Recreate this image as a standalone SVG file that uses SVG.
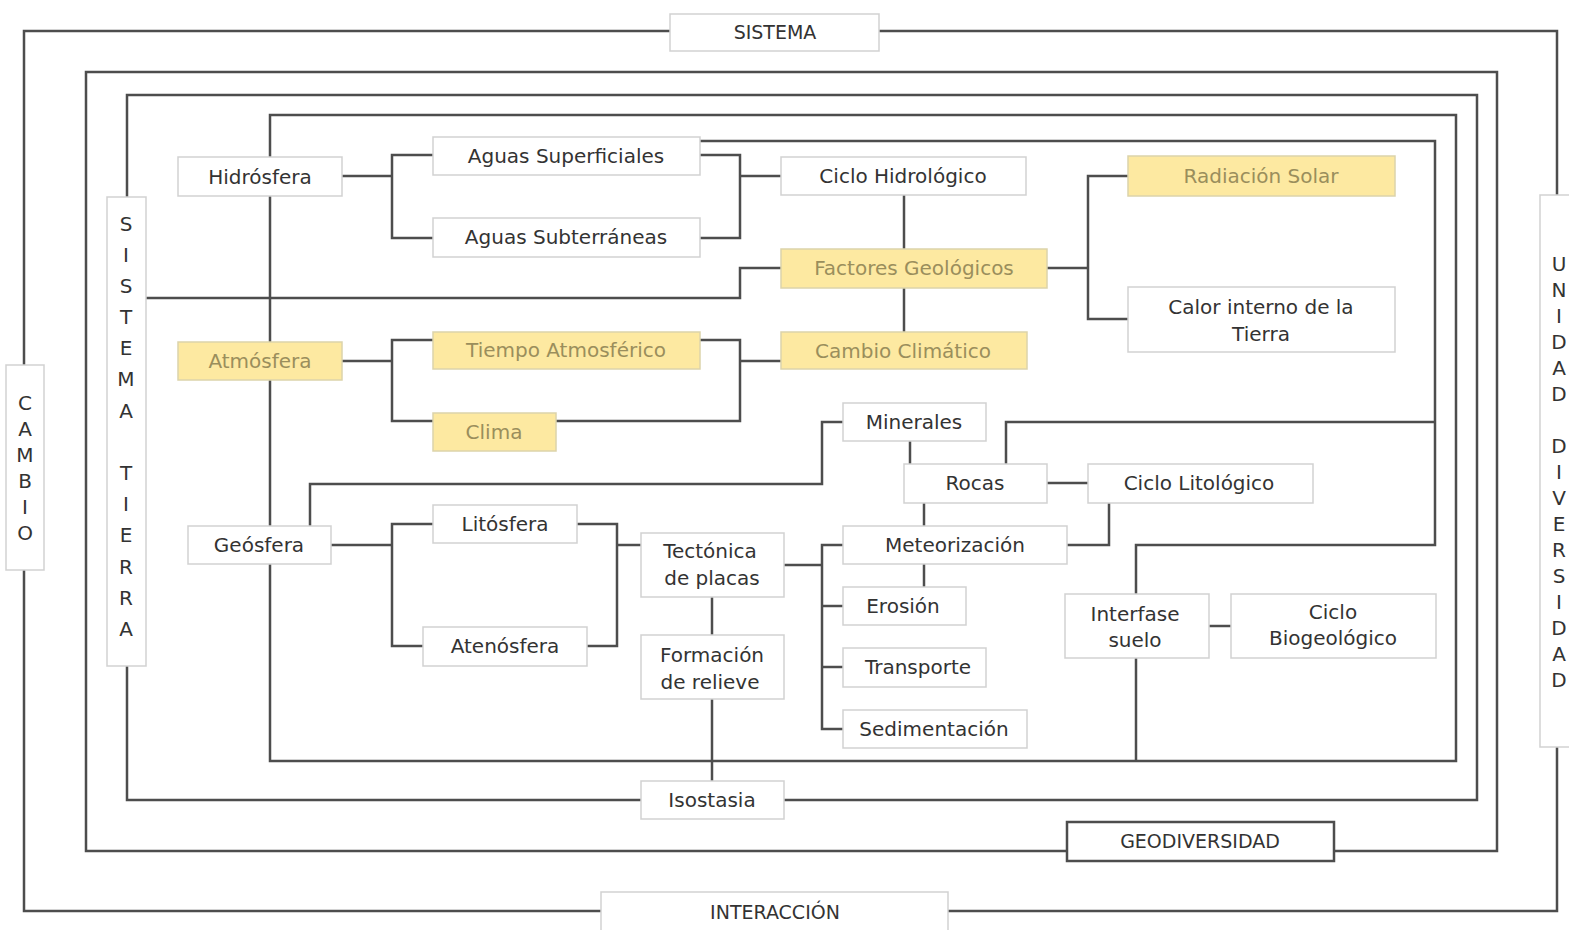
<svg xmlns="http://www.w3.org/2000/svg" width="1569" height="930" viewBox="0 0 1569 930">
  <style>
    .ln { fill: none; stroke: #4d4d4d; stroke-width: 2.5; stroke-linejoin: miter; }
    .box { fill: #ffffff; stroke: #d2d2d2; stroke-width: 1.5; }
    .hl { fill: #fde9a1; stroke: #dcd3ab; stroke-width: 1.5; }
    .dark { fill: #ffffff; stroke: #4d4d4d; stroke-width: 2.5; }
    text { font-family: "DejaVu Sans", "Liberation Sans", sans-serif; font-size: 20px; fill: #333333; text-anchor: middle; }
    .ht { fill: #9a8e5c; }
    .frame { font-size: 19px; }
  </style>

  <!-- connectors -->
  <g id="connectors">
    <!-- nested frames -->
    <path class="ln" d="M24,31 H1557 V911 H24 Z"/>
    <path class="ln" d="M86,72 H1497 V851 H86 Z"/>
    <path class="ln" d="M127,95 H1477 V800 H127 Z"/>
    <path class="ln" d="M270,115 H1456 V761 H270 Z"/>
    <path class="ln" d="M700,141 H1435 V545 H1136 V594"/>
    <path class="ln" d="M1435,422 H1006 V464"/>
    <path class="ln" d="M1136,658 V761"/>
    <!-- water branch -->
    <path class="ln" d="M342,176 H392"/>
    <path class="ln" d="M433,155 H392 V238 H433"/>
    <path class="ln" d="M700,155 H740 V238 H700"/>
    <path class="ln" d="M740,176 H781"/>
    <path class="ln" d="M904,195 V332"/>
    <path class="ln" d="M146,298 H740 V268 H781"/>
    <path class="ln" d="M1047,268 H1088"/>
    <path class="ln" d="M1128,176 H1088 V319 H1128"/>
    <!-- atmosphere branch -->
    <path class="ln" d="M342,361 H392"/>
    <path class="ln" d="M433,340 H392 V421 H433"/>
    <path class="ln" d="M700,340 H740 V421 H556"/>
    <path class="ln" d="M740,361 H781"/>
    <!-- geosphere branch -->
    <path class="ln" d="M310,526 V484 H822 V422 H843"/>
    <path class="ln" d="M910,441 V464"/>
    <path class="ln" d="M1047,483 H1088"/>
    <path class="ln" d="M924,503 V526"/>
    <path class="ln" d="M1109,503 V545 H1067"/>
    <path class="ln" d="M924,564 V587"/>
    <path class="ln" d="M331,545 H392"/>
    <path class="ln" d="M433,524 H392 V646 H423"/>
    <path class="ln" d="M577,524 H617 V646 H587"/>
    <path class="ln" d="M617,545 H641"/>
    <path class="ln" d="M784,565 H822"/>
    <path class="ln" d="M843,545 H822 V729 H843"/>
    <path class="ln" d="M822,606 H843"/>
    <path class="ln" d="M822,667 H843"/>
    <path class="ln" d="M712,597 V635"/>
    <path class="ln" d="M712,699 V781"/>
    <path class="ln" d="M1209,626 H1231"/>
  </g>

  <!-- frame labels -->
  <g id="sistema">
    <rect class="box" x="670" y="14" width="209" height="37"/>
    <text class="frame" x="775" y="39">SISTEMA</text>
  </g>
  <g id="interaccion">
    <rect class="box" x="601" y="892" width="347" height="45"/>
    <text class="frame" x="775" y="919">INTERACCIÓN</text>
  </g>
  <g id="geodiversidad">
    <rect class="dark" x="1067" y="822" width="267" height="39"/>
    <text class="frame" x="1200" y="848">GEODIVERSIDAD</text>
  </g>
  <g id="cambio">
    <rect class="box" x="6" y="365" width="38" height="205"/>
    <text x="25" y="410">C</text>
    <text x="25" y="436">A</text>
    <text x="25" y="462">M</text>
    <text x="25" y="488">B</text>
    <text x="25" y="514">I</text>
    <text x="25" y="540">O</text>
  </g>
  <g id="unidad-diversidad">
    <rect class="box" x="1540" y="195" width="40" height="552"/>
    <text x="1559" y="271">U</text>
    <text x="1559" y="297">N</text>
    <text x="1559" y="323">I</text>
    <text x="1559" y="349">D</text>
    <text x="1559" y="375">A</text>
    <text x="1559" y="401">D</text>
    <text x="1559" y="453">D</text>
    <text x="1559" y="479">I</text>
    <text x="1559" y="505">V</text>
    <text x="1559" y="531">E</text>
    <text x="1559" y="557">R</text>
    <text x="1559" y="583">S</text>
    <text x="1559" y="609">I</text>
    <text x="1559" y="635">D</text>
    <text x="1559" y="661">A</text>
    <text x="1559" y="687">D</text>
  </g>
  <g id="sistema-tierra">
    <rect class="box" x="107" y="197" width="39" height="469"/>
    <text x="126" y="231">S</text>
    <text x="126" y="262">I</text>
    <text x="126" y="293">S</text>
    <text x="126" y="324">T</text>
    <text x="126" y="355">E</text>
    <text x="126" y="386">M</text>
    <text x="126" y="418">A</text>
    <text x="126" y="480">T</text>
    <text x="126" y="511">I</text>
    <text x="126" y="542">E</text>
    <text x="126" y="574">R</text>
    <text x="126" y="605">R</text>
    <text x="126" y="636">A</text>
  </g>

  <!-- hydrosphere -->
  <g id="hidrosfera">
    <rect class="box" x="178" y="157" width="164" height="39"/>
    <text x="260" y="184">Hidrósfera</text>
  </g>
  <g id="aguas-superficiales">
    <rect class="box" x="433" y="137" width="267" height="38"/>
    <text x="566" y="163">Aguas Superficiales</text>
  </g>
  <g id="aguas-subterraneas">
    <rect class="box" x="433" y="218" width="267" height="39"/>
    <text x="566" y="244">Aguas Subterráneas</text>
  </g>
  <g id="ciclo-hidrologico">
    <rect class="box" x="781" y="157" width="245" height="38"/>
    <text x="903" y="183">Ciclo Hidrológico</text>
  </g>
  <g id="factores-geologicos">
    <rect class="hl" x="781" y="249" width="266" height="39"/>
    <text class="ht" x="914" y="275">Factores Geológicos</text>
  </g>
  <g id="radiacion-solar">
    <rect class="hl" x="1128" y="156" width="267" height="40"/>
    <text class="ht" x="1261" y="183">Radiación Solar</text>
  </g>
  <g id="calor-interno">
    <rect class="box" x="1128" y="287" width="267" height="65"/>
    <text x="1261" y="314">Calor interno de la</text>
    <text x="1261" y="341">Tierra</text>
  </g>

  <!-- atmosphere -->
  <g id="atmosfera">
    <rect class="hl" x="178" y="342" width="164" height="38"/>
    <text class="ht" x="260" y="368">Atmósfera</text>
  </g>
  <g id="tiempo-atmosferico">
    <rect class="hl" x="433" y="332" width="267" height="37"/>
    <text class="ht" x="566" y="357">Tiempo Atmosférico</text>
  </g>
  <g id="clima">
    <rect class="hl" x="433" y="413" width="123" height="38"/>
    <text class="ht" x="494" y="439">Clima</text>
  </g>
  <g id="cambio-climatico">
    <rect class="hl" x="781" y="332" width="246" height="37"/>
    <text class="ht" x="903" y="358">Cambio Climático</text>
  </g>

  <!-- geosphere -->
  <g id="geosfera">
    <rect class="box" x="188" y="526" width="143" height="38"/>
    <text x="259" y="552">Geósfera</text>
  </g>
  <g id="litosfera">
    <rect class="box" x="433" y="505" width="144" height="38"/>
    <text x="505" y="531">Litósfera</text>
  </g>
  <g id="atenosfera">
    <rect class="box" x="423" y="627" width="164" height="39"/>
    <text x="505" y="653">Atenósfera</text>
  </g>
  <g id="tectonica">
    <rect class="box" x="641" y="533" width="143" height="64"/>
    <text x="710" y="558">Tectónica</text>
    <text x="712" y="585">de placas</text>
  </g>
  <g id="formacion-relieve">
    <rect class="box" x="641" y="635" width="143" height="64"/>
    <text x="712" y="662">Formación</text>
    <text x="710" y="689">de relieve</text>
  </g>
  <g id="isostasia">
    <rect class="box" x="641" y="781" width="143" height="38"/>
    <text x="712" y="807">Isostasia</text>
  </g>
  <g id="minerales">
    <rect class="box" x="843" y="403" width="143" height="38"/>
    <text x="914" y="429">Minerales</text>
  </g>
  <g id="rocas">
    <rect class="box" x="904" y="464" width="143" height="39"/>
    <text x="975" y="490">Rocas</text>
  </g>
  <g id="ciclo-litologico">
    <rect class="box" x="1088" y="464" width="225" height="39"/>
    <text x="1199" y="490">Ciclo Litológico</text>
  </g>
  <g id="meteorizacion">
    <rect class="box" x="843" y="526" width="224" height="38"/>
    <text x="955" y="552">Meteorización</text>
  </g>
  <g id="erosion">
    <rect class="box" x="843" y="587" width="123" height="38"/>
    <text x="903" y="613">Erosión</text>
  </g>
  <g id="transporte">
    <rect class="box" x="843" y="648" width="143" height="39"/>
    <text x="918" y="674">Transporte</text>
  </g>
  <g id="sedimentacion">
    <rect class="box" x="843" y="710" width="184" height="38"/>
    <text x="934" y="736">Sedimentación</text>
  </g>
  <g id="interfase-suelo">
    <rect class="box" x="1065" y="594" width="144" height="64"/>
    <text x="1135" y="621">Interfase</text>
    <text x="1135" y="647">suelo</text>
  </g>
  <g id="ciclo-biogeologico">
    <rect class="box" x="1231" y="594" width="205" height="64"/>
    <text x="1333" y="619">Ciclo</text>
    <text x="1333" y="645">Biogeológico</text>
  </g>
</svg>
